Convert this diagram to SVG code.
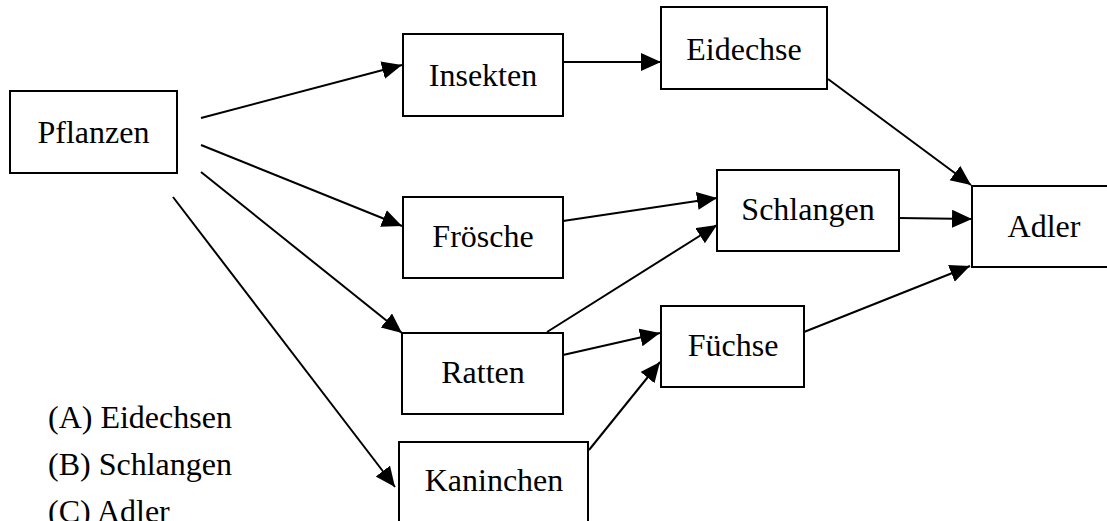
<svg xmlns="http://www.w3.org/2000/svg" width="1107" height="521" viewBox="0 0 1107 521">
<style>
.box{fill:#fff;stroke:#000;stroke-width:2}
.lbl{font-family:"Liberation Serif","Times New Roman",serif;font-size:32px;fill:#000;text-anchor:middle}
.leg{font-family:"Liberation Serif","Times New Roman",serif;font-size:32px;fill:#000}
.edge{stroke:#000;stroke-width:2;fill:none;marker-end:url(#ah)}
</style>
<defs>
<marker id="ah" markerUnits="userSpaceOnUse" markerWidth="22" markerHeight="20" refX="20" refY="9" orient="auto">
<path d="M0,0 L20,9 L0,18 z" fill="#000"/>
</marker>
</defs>
<rect width="1107" height="521" fill="#fff"/>
<g id="connectors">
<line class="edge" x1="201" y1="118" x2="402" y2="65"/>
<line class="edge" x1="201" y1="145" x2="402" y2="226"/>
<line class="edge" x1="201" y1="172" x2="402" y2="333"/>
<line class="edge" x1="173" y1="197" x2="395" y2="487"/>
<line class="edge" x1="563" y1="62" x2="661" y2="62"/>
<line class="edge" x1="563" y1="221" x2="717" y2="198"/>
<line class="edge" x1="547" y1="332" x2="717" y2="225"/>
<line class="edge" x1="563" y1="355" x2="660" y2="333"/>
<line class="edge" x1="589" y1="450" x2="660" y2="362"/>
<line class="edge" x1="828" y1="79" x2="971" y2="185"/>
<line class="edge" x1="899" y1="218" x2="972" y2="219"/>
<line class="edge" x1="804" y1="332" x2="970" y2="266"/>
</g>
<g id="pflanzen"><rect class="box" x="10" y="91" width="167" height="82"/><text class="lbl" x="93.5" y="143">Pflanzen</text></g>
<g id="insekten"><rect class="box" x="403" y="34" width="160" height="82"/><text class="lbl" x="483" y="86">Insekten</text></g>
<g id="eidechse"><rect class="box" x="661" y="7" width="166" height="82"/><text class="lbl" x="744" y="60">Eidechse</text></g>
<g id="froesche"><rect class="box" x="403" y="197" width="160" height="81"/><text class="lbl" x="483" y="247">Frösche</text></g>
<g id="schlangen"><rect class="box" x="717" y="170" width="182" height="81"/><text class="lbl" x="808" y="220">Schlangen</text></g>
<g id="adler"><rect class="box" x="972" y="186" width="150" height="81"/><text class="lbl" x="1044" y="237">Adler</text></g>
<g id="ratten"><rect class="box" x="402" y="333" width="161" height="81"/><text class="lbl" x="483" y="383">Ratten</text></g>
<g id="fuechse"><rect class="box" x="661" y="306" width="143" height="81"/><text class="lbl" x="733" y="356">Füchse</text></g>
<g id="kaninchen"><rect class="box" x="399" y="442" width="189" height="100"/><text class="lbl" x="494" y="491">Kaninchen</text></g>
<g id="legend">
<text class="leg" x="48" y="428">(A) Eidechsen</text>
<text class="leg" x="48" y="475">(B) Schlangen</text>
<text class="leg" x="48" y="522">(C) Adler</text>
</g>
</svg>
